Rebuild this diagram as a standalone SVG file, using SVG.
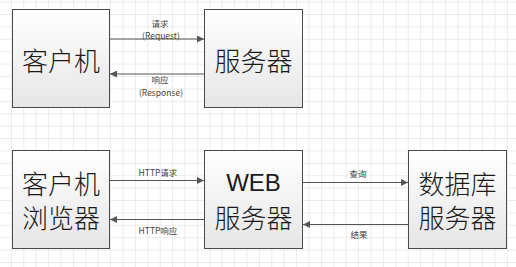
<svg xmlns="http://www.w3.org/2000/svg" width="516" height="267" viewBox="0 0 516 267">
<defs>
<pattern id="grid" x="10.9" y="1.6" width="12.4" height="12.4" patternUnits="userSpaceOnUse">
<path d="M0 0H12.4M0 0V12.4" fill="none" stroke="#dadada" stroke-width="1"/>
</pattern>
<linearGradient id="boxfill" x1="0" y1="0" x2="0" y2="1">
<stop offset="0" stop-color="#ffffff"/>
<stop offset="1" stop-color="#e6e6e6"/>
</linearGradient>
<marker id="arr" viewBox="0 0 10 10" refX="10" refY="5" markerWidth="7" markerHeight="7" markerUnits="userSpaceOnUse" orient="auto">
<path d="M0 0L10 5L0 10Z" fill="#555"/>
</marker>
</defs>
<style>
.box{fill:url(#boxfill);stroke:#4a4a4a;stroke-width:1}
.big{font-family:"Noto Sans CJK SC","Liberation Sans",sans-serif;font-size:26px;font-weight:300;fill:#1a1a1a;text-anchor:middle;dominant-baseline:central}
.lat{font-family:"Liberation Sans","Noto Sans CJK SC",sans-serif;font-size:24px;fill:#1a1a1a;text-anchor:middle;dominant-baseline:central}
.lbl{font-family:"Noto Sans CJK SC","Liberation Sans",sans-serif;font-size:8.5px;fill:#444;text-anchor:middle;dominant-baseline:central}
.con{stroke:#555;stroke-width:1;fill:none;marker-end:url(#arr)}
</style>
<rect width="516" height="267" fill="#ffffff"/>
<rect width="516" height="267" fill="url(#grid)"/>
<g id="client">
<rect class="box" x="12.5" y="9.5" width="97" height="98"/>
<text class="big" x="61" y="59">客户机</text>
</g>
<g id="server">
<rect class="box" x="204.5" y="9.5" width="98" height="98"/>
<text class="big" x="253.5" y="59">服务器</text>
</g>
<g id="browser">
<rect class="box" x="12.5" y="150.5" width="97" height="98"/>
<text class="big" x="61" y="182">客户机</text>
<text class="big" x="61" y="216">浏览器</text>
</g>
<g id="web-server">
<rect class="box" x="204.5" y="150.5" width="98" height="98"/>
<text class="lat" x="253.5" y="182">WEB</text>
<text class="big" x="253.5" y="216">服务器</text>
</g>
<g id="db-server">
<rect class="box" x="408.5" y="150.5" width="98" height="98"/>
<text class="big" x="457.5" y="182">数据库</text>
<text class="big" x="457.5" y="216">服务器</text>
</g>
<g id="connectors">
<line class="con" x1="110" y1="39" x2="204" y2="39" style="stroke:#888;stroke-width:1.3"/>
<line class="con" x1="204" y1="74" x2="110" y2="74"/>
<line class="con" x1="110" y1="180.5" x2="204" y2="180.5"/>
<line class="con" x1="204" y1="219.5" x2="110" y2="219.5"/>
<line class="con" x1="303" y1="182.5" x2="408" y2="182.5"/>
<line class="con" x1="408" y1="224.5" x2="303" y2="224.5"/>
<text class="lbl" x="160" y="22.5">请求</text>
<text class="lbl" x="161" y="34.5">(Request)</text>
<text class="lbl" x="160" y="78.5">响应</text>
<text class="lbl" x="161" y="91.5">(Response)</text>
<text class="lbl" x="158" y="171.5">HTTP请求</text>
<text class="lbl" x="158" y="229.5">HTTP响应</text>
<text class="lbl" x="358" y="172.5">查询</text>
<text class="lbl" x="359" y="233.5">结果</text>
</g>
</svg>
